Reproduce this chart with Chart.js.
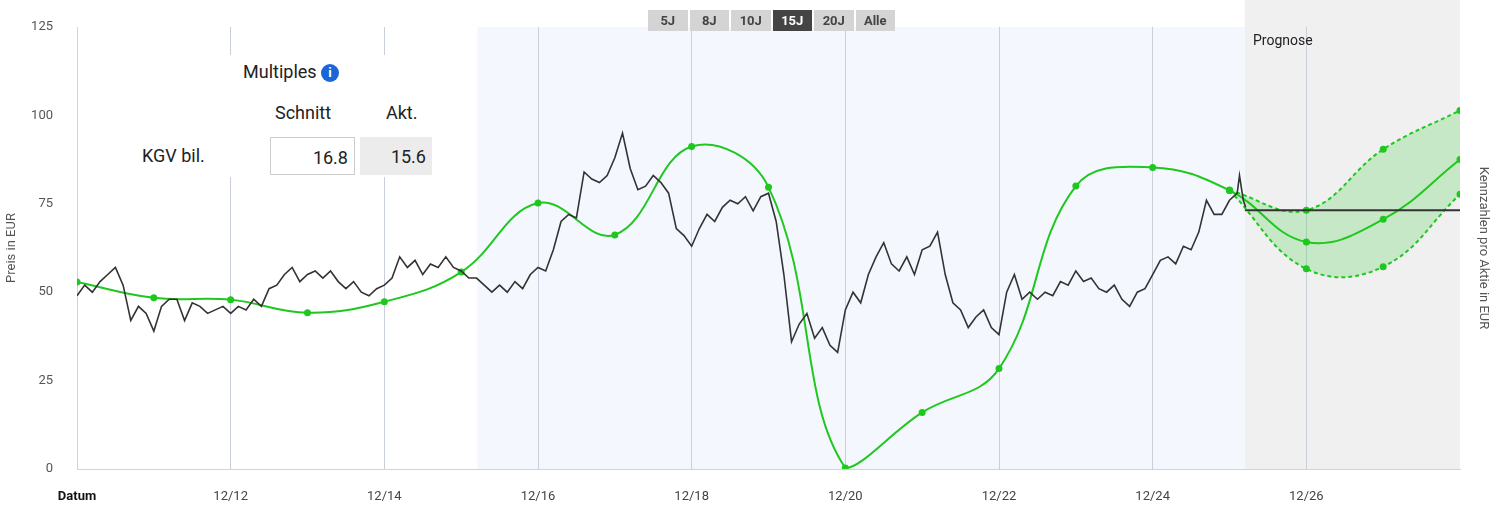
<!DOCTYPE html>
<html>
<head>
<meta charset="utf-8">
<script src="https://cdn.jsdelivr.net/npm/chart.js@4"></script>
<style>
  body { margin:0; background:#fff; font-family: Roboto, sans-serif; }
  #wrap { position:relative; width:1495px; height:512px; }
  .btns { position:absolute; left:648px; top:10px; display:flex; gap:2px; }
  .btns div { background:#d4d4d4; color:#444; font-size:13px; font-weight:bold; padding:3px 0; width:39.5px; text-align:center; }
  .btns div.on { background:#444; color:#fff; }
  #mult { position:absolute; left:130px; top:55px; width:310px; height:122px; background:#fff; color:#222; }
  .t { position:absolute; font-size:18px; }
  .box { position:absolute; height:38px; box-sizing:border-box; font-size:18px; text-align:right; padding:9px 6px 0 0; }
  .prog { position:absolute; left:1253px; top:32px; font-size:14px; color:#222; }
</style>
</head>
<body>
<div id="wrap">
  <canvas id="c" width="1495" height="512"></canvas>
  <div class="btns"><div>5J</div><div>8J</div><div>10J</div><div class="on">15J</div><div>20J</div><div>Alle</div></div>
  <div class="prog">Prognose</div>
  <div id="mult">
    <div class="t" style="left:113px;top:6px">Multiples <span style="display:inline-block;width:18px;height:18px;border-radius:50%;background:#1a66d6;color:#fff;font-size:13px;font-weight:bold;text-align:center;line-height:18px;vertical-align:1px">i</span></div>
    <div class="t" style="left:145px;top:47px">Schnitt</div>
    <div class="t" style="left:256px;top:47px">Akt.</div>
    <div class="t" style="left:12px;top:90px">KGV bil.</div>
    <div class="box" style="left:140px;top:82px;width:85px;border:1px solid #ccc">16.8</div>
    <div class="box" style="left:230px;top:82px;width:72px;background:#ececec">15.6</div>
  </div>
</div>
<script>
// price series (x = year, tick "12/YY" sits at YY + .92)
const priceX = [];
const priceY = [49,52,50,53,55,57,52,42,46,44,39,46,48,48,42,47,46,44,45,46,44,46,45,48,46,51,52,55,57,53,55,
  56,54,56,53,51,53,50,49,51,52,54,60,57,59,55,58,57,60,57,56,54,54,52,50,52,50,53,51,55,57,56,62,70,72,71,84,82,81,83,88,
  95,85,79,80,83,81,78,68,66,63,68,72,70,74,76,75,77,73,77,78,70,55,36,41,44,37,40,35,33,45,50,47,55,60,64,58,56,60,55,62,
  63,67,55,47,45,40,43,45,40,38,50,55,48,50,48,50,49,53,52,56,53,54,51,50,52,48,46,50,51,55,59,60,58,63,62,67,76,72,72,76,78];
for (let i = 0; i < priceY.length; i++) priceX.push(2010.92 + i * 0.1);
priceX.push(2026.05, 2026.1, 2026.13);
priceY.push(83, 76, 74);

const kgvX = [2010.92,2011.92,2012.92,2013.92,2014.92,2015.92,2016.92,2017.92,2018.92,2019.92,2020.92,2021.92,2022.92,2023.92,2024.92,2025.92,2026.92,2027.92,2028.92];
const kgvY = [52.9,48.4,47.9,44.2,47.3,55.7,75.2,66.2,91.2,79.7,0.3,16,28.4,80,85.3,78.8,64.2,70.6,87.5];
const highX = [2025.92,2026.92,2027.92,2028.92];
const highY = [78.8,73.2,90.4,101.4];
const lowY = [78.8,56.6,57.2,77.7];
const refLine = [[2026.12,73.2],[2028.92,73.2]];
const tickVals = [2010.92,2012.92,2014.92,2016.92,2018.92,2020.92,2022.92,2024.92,2026.92];
const tickLabels = ['Datum','12/12','12/14','12/16','12/18','12/20','12/22','12/24','12/26'];
const blueZone = [2016.13, 2026.12];
const grayZone = [2026.12, 2028.92];

const pts = (xs, ys) => xs.map((x, i) => ({x, y: ys[i]}));
const green = '#1ec81e';

const zones = {
  id: 'zones',
  beforeDraw(chart) {
    const {ctx, chartArea: a, scales: {x}} = chart;
    ctx.save();
    ctx.fillStyle = '#f4f8fe';
    ctx.fillRect(x.getPixelForValue(blueZone[0]), a.top, x.getPixelForValue(blueZone[1]) - x.getPixelForValue(blueZone[0]), a.bottom - a.top);
    ctx.fillStyle = '#f0f0f0';
    ctx.fillRect(x.getPixelForValue(grayZone[0]), 0, x.getPixelForValue(grayZone[1]) - x.getPixelForValue(grayZone[0]), a.bottom);
    ctx.restore();
  }
};

new Chart(document.getElementById('c'), {
  type: 'line',
  data: {
    datasets: [
      {data: pts(priceX, priceY), borderColor: '#333', borderWidth: 1.6, pointRadius: 0, tension: 0, order: 1},
      {data: pts(kgvX, kgvY), borderColor: green, backgroundColor: green, borderWidth: 2, pointRadius: 2.5, tension: 0.4, order: 2},
      {data: pts(highX, highY), borderColor: green, backgroundColor: 'rgba(30,200,30,0.2)', borderDash: [4,3], borderWidth: 2, pointRadius: 2.5, pointBackgroundColor: green, tension: 0.4, fill: '+1', order: 3},
      {data: pts(highX, lowY), borderColor: green, backgroundColor: green, borderDash: [4,3], borderWidth: 2, pointRadius: 2.5, tension: 0.4, order: 3},
      {data: refLine.map(p => ({x: p[0], y: p[1]})), borderColor: '#333', borderWidth: 2, pointRadius: 0, order: 0}
    ]
  },
  options: {
    responsive: false, animation: false,
    layout: {padding: {top: 27}},
    plugins: {legend: {display: false}, tooltip: {enabled: false}},
    scales: {
      x: {
        type: 'linear', min: 2010.92, max: 2028.92,
        afterBuildTicks: s => { s.ticks = tickVals.map(v => ({value: v})); },
        afterFit: s => { s.height = 43; },
        ticks: {
          callback: (v, i) => tickLabels[i],
          color: ctx => ctx.index === 0 ? '#111' : '#444',
          font: ctx => ({family: 'Roboto', size: 13, weight: ctx.index === 0 ? 'bold' : 'normal'}),
          maxRotation: 0, padding: 20
        },
        grid: {color: '#c9cfdb', drawTicks: false},
        border: {color: '#ccd4e0'}
      },
      y: {
        min: 0, max: 125,
        ticks: {stepSize: 25, color: '#555', font: {family: 'Roboto', size: 13}, padding: 16},
        afterFit: s => { s.width = 77; },
        grid: {display: false},
        border: {color: '#ccd4e0'},
        title: {display: true, text: 'Preis in EUR', color: '#555', font: {family: 'Roboto', size: 13}}
      },
      y2: {
        position: 'right', min: 0, max: 125,
        ticks: {display: false}, grid: {display: false}, border: {display: false},
        afterFit: s => { s.width = 35; },
        title: {display: true, text: 'Kennzahlen pro Aktie in EUR', color: '#555', font: {family: 'Roboto', size: 13}}
      }
    }
  },
  plugins: [zones]
});
</script>
</body>
</html>
